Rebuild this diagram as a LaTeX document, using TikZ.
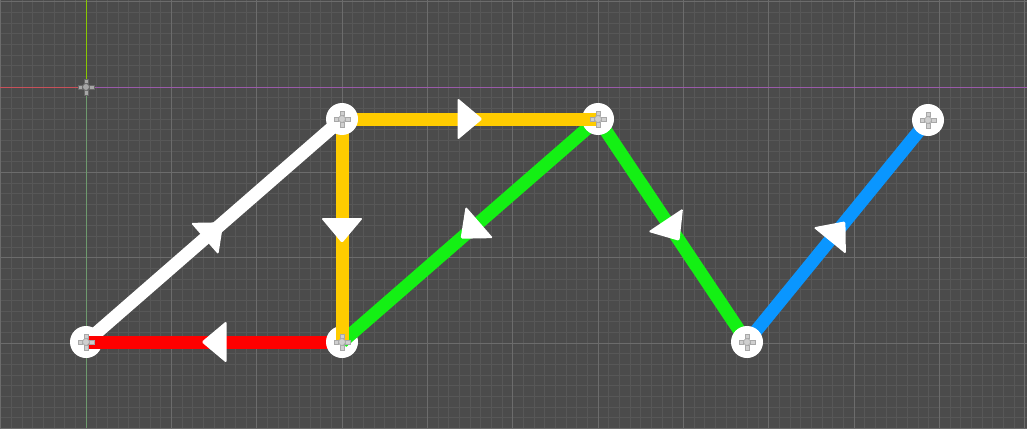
\documentclass[tikz,border=0pt]{standalone}
\usetikzlibrary{decorations.markings}
\definecolor{bgc}{HTML}{4B4B4B}
\definecolor{finec}{HTML}{575757}
\definecolor{coarsec}{HTML}{6C6C6C}
\definecolor{yellowc}{HTML}{FFCC00}
\definecolor{redc}{HTML}{FF0000}
\definecolor{greenc}{HTML}{14F014}
\definecolor{bluec}{HTML}{0A96FF}
\definecolor{pinc}{HTML}{CFCFCF}
\definecolor{pinedge}{HTML}{A8A8A8}
\tikzset{
  fine/.style   ={draw=finec, line width=0.6pt},
  coarse/.style ={draw=coarsec, line width=0.75pt},
  edge/.style   ={line width=9.75pt, line cap=butt},
  vtx/.style    ={circle, fill=white, minimum size=24pt, inner sep=0pt},
  pin/.style    ={fill=pinc, draw=pinedge, line width=0.4pt},
  opin/.style   ={fill=gray!70, draw=black!60, line width=0.4pt},
  midarr/.style ={postaction={decorate, decoration={markings,
                  mark=at position 0.5 with {\fill[white, rounded corners=1.2pt]
                  (12.5,0) -- (-12.5,21) -- (-12.5,-21) -- cycle;}}}},
}

\begin{document}
\begin{tikzpicture}[x=0.75pt, y=-0.75pt]

% background and grid
\fill[bgc] (0,0) rectangle (1027,428);
\useasboundingbox (0,0) rectangle (1027,428);
\foreach \i in {-8,...,88}
  \draw[fine] ({86+\i*10.6667},0) -- ({86+\i*10.6667},428);
\foreach \i in {-8,...,32}
  \draw[fine] (0,{87+\i*10.6667}) -- (1027,{87+\i*10.6667});
\foreach \i in {-1,...,11}
  \draw[coarse] ({86+\i*85.3333},0) -- ({86+\i*85.3333},428);
\foreach \i in {-1,...,4}
  \draw[coarse] (0,{87+\i*85.3333}) -- (1027,{87+\i*85.3333});

% axes
\coordinate (O) at (86,87);
\draw[line width=0.75pt, draw={rgb,255:red,200;green,80;blue,90}] (0,87) -- (O);
\draw[line width=0.75pt, draw={rgb,255:red,154;green,90;blue,170}] (O) -- (1027,87);
\draw[line width=0.75pt, draw={rgb,255:red,136;green,200;blue,0}] (86,0) -- (O);
\draw[line width=0.75pt, draw={rgb,255:red,110;green,154;blue,110}] (O) -- (86,428);

\coordinate (A) at (86,342);
\coordinate (B) at (342,119);
\coordinate (C) at (342,342);
\coordinate (D) at (598,119);
\coordinate (E) at (747,342);
\coordinate (F) at (928,120);

\draw[edge, white, midarr] (A) -- (B);
\draw[edge, bluec, midarr] (E) -- (F);
\draw[edge, greenc, midarr] (D) -- (E);
\node[vtx] (vA) at (A) {};
\draw[edge, redc, midarr] (C) -- (A);
\node[vtx] (vC) at (C) {};
\draw[edge, greenc, midarr] (D) -- (C);
\node[vtx] (vD) at (D) {};
\node[vtx] (vE) at (E) {};
\node[vtx] (vF) at (F) {};
\draw[edge, yellowc, midarr] (B) -- (D);
\draw[edge, yellowc, midarr] (B) -- (C);
\node[vtx] (vB) at (B) {};

% pivot crosses
\foreach \p/\s in {O/opin,A/pin,B/pin,C/pin,D/pin,E/pin,F/pin} {
  \begin{scope}[shift={(\p)}]
    \filldraw[\s] (-8,-2) rectangle (-3.5,2);
    \filldraw[\s] (3.5,-2) rectangle (8,2);
    \filldraw[\s] (-2,-8) rectangle (2,-3.5);
    \filldraw[\s] (-2,3.5) rectangle (2,8);
    \filldraw[\s] (0,0) circle (3.4);
  \end{scope}
}

\end{tikzpicture}
\end{document}
